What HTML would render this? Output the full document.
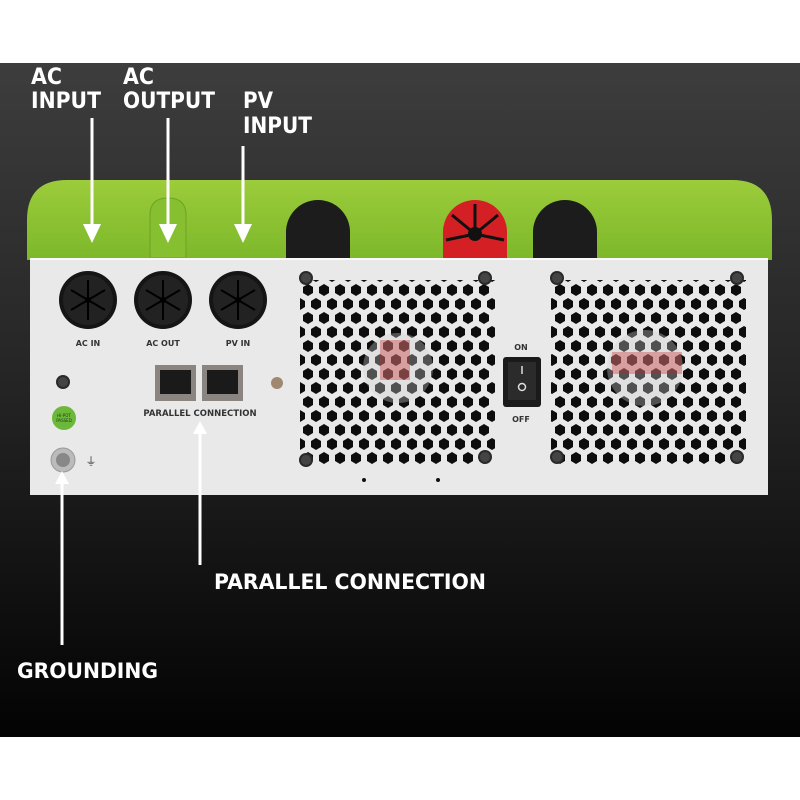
<!DOCTYPE html>
<html><head><meta charset="utf-8"><style>
html,body{margin:0;padding:0;background:#fff;}
svg{display:block}
text{font-family:"DejaVu Sans","Liberation Sans",sans-serif;}
</style></head><body>
<svg width="800" height="800" viewBox="0 0 800 800" xmlns="http://www.w3.org/2000/svg">
<defs>
<linearGradient id="bg" x1="0" y1="0" x2="0" y2="1">
<stop offset="0" stop-color="#3d3d3d"/><stop offset="0.45" stop-color="#262626"/><stop offset="1" stop-color="#030303"/>
</linearGradient>
<linearGradient id="gr" x1="0" y1="0" x2="0" y2="1">
<stop offset="0" stop-color="#9ccc3a"/><stop offset="1" stop-color="#7cb82a"/>
</linearGradient>
<pattern id="hex" width="16" height="28" patternUnits="userSpaceOnUse" x="300" y="282">
<polygon points="8,2 13,5 13,11 8,14 3,11 3,5" fill="#0d0d0d"/>
<polygon points="16,16 21,19 21,25 16,28 11,25 11,19" fill="#0d0d0d"/>
<polygon points="0,16 5,19 5,25 0,28 -5,25 -5,19" fill="#0d0d0d"/>
</pattern>
<pattern id="hex2" width="16" height="28" patternUnits="userSpaceOnUse" x="552" y="282">
<polygon points="8,2 13,5 13,11 8,14 3,11 3,5" fill="#0d0d0d"/>
<polygon points="16,16 21,19 21,25 16,28 11,25 11,19" fill="#0d0d0d"/>
<polygon points="0,16 5,19 5,25 0,28 -5,25 -5,19" fill="#0d0d0d"/>
</pattern>
<g id="grom">
<circle r="29" fill="#151515"/>
<circle r="25" fill="#222"/>
<g stroke="#000" stroke-width="2">
<line x1="0" y1="-20" x2="0" y2="20"/><line x1="-17" y1="-10" x2="17" y2="10"/><line x1="-17" y1="10" x2="17" y2="-10"/>
</g>
<circle r="3" fill="#000"/>
</g>
<g id="screw"><circle r="7" fill="#2a2a2a"/><circle r="5" fill="#444"/></g>
</defs>
<rect x="0" y="63" width="800" height="674" fill="url(#bg)"/>

<path d="M27 260 L27 220 Q27 180 67 180 L732 180 Q772 180 772 220 L772 260 Z" fill="url(#gr)"/>
<path d="M150 258 L150 215 Q150 198 168 198 Q186 198 186 215 L186 258 Z" fill="#86c030" stroke="#6da226" stroke-width="1"/>
<path d="M286 258 L286 232 A32 32 0 0 1 350 232 L350 258 Z" fill="#1c1c1c"/>
<path d="M443 258 L443 232 A32 32 0 0 1 507 232 L507 258 Z" fill="#d42025"/>
<g stroke="#111" stroke-width="3"><line x1="475" y1="234" x2="475" y2="204"/><line x1="475" y1="234" x2="452" y2="215"/><line x1="475" y1="234" x2="498" y2="215"/><line x1="475" y1="234" x2="446" y2="240"/><line x1="475" y1="234" x2="504" y2="240"/></g>
<circle cx="475" cy="234" r="7" fill="#111"/>
<path d="M533 258 L533 232 A32 32 0 0 1 597 232 L597 258 Z" fill="#1c1c1c"/>

<rect x="30" y="258" width="738" height="237" fill="#e9e9e9"/>
<rect x="30" y="258" width="738" height="2" fill="#fafafa"/>

<rect x="300" y="280" width="195" height="184" fill="url(#hex)"/>
<rect x="551" y="280" width="195" height="184" fill="url(#hex2)"/>
<circle cx="398" cy="368" r="35" fill="#d0d0d0" opacity="0.35"/>
<rect x="380" y="340" width="30" height="40" fill="#c8242a" opacity="0.35"/>
<circle cx="645" cy="368" r="38" fill="#d0d0d0" opacity="0.35"/>
<rect x="612" y="352" width="70" height="22" fill="#c8242a" opacity="0.35"/>
<use href="#screw" x="306" y="278"/><use href="#screw" x="485" y="278"/><use href="#screw" x="306" y="460"/><use href="#screw" x="485" y="457"/>
<use href="#screw" x="557" y="278"/><use href="#screw" x="737" y="278"/><use href="#screw" x="557" y="457"/><use href="#screw" x="737" y="457"/>
<circle cx="364" cy="480" r="2" fill="#111"/><circle cx="438" cy="480" r="2" fill="#111"/>

<rect x="503" y="357" width="38" height="50" rx="3" fill="#1a1a1a"/>
<rect x="508" y="362" width="28" height="38" fill="#2b2b2b"/>
<line x1="522" y1="366" x2="522" y2="374" stroke="#ddd" stroke-width="1.5"/>
<circle cx="522" cy="387" r="3.5" fill="none" stroke="#ddd" stroke-width="1.5"/>
<text x="521" y="350" font-size="8" font-weight="bold" fill="#333" text-anchor="middle">ON</text>
<text x="521" y="422" font-size="8" font-weight="bold" fill="#333" text-anchor="middle">OFF</text>

<use href="#grom" x="88" y="300"/><use href="#grom" x="163" y="300"/><use href="#grom" x="238" y="300"/>
<text x="88" y="346" font-size="8" font-weight="bold" fill="#333" text-anchor="middle">AC IN</text>
<text x="163" y="346" font-size="8" font-weight="bold" fill="#333" text-anchor="middle">AC OUT</text>
<text x="238" y="346" font-size="8" font-weight="bold" fill="#333" text-anchor="middle">PV IN</text>

<rect x="155" y="365" width="41" height="36" fill="#8a8580"/><rect x="160" y="370" width="31" height="24" fill="#1a1a1a"/>
<rect x="202" y="365" width="41" height="36" fill="#8a8580"/><rect x="207" y="370" width="31" height="24" fill="#1a1a1a"/>
<text x="200" y="416" font-size="8.5" font-weight="bold" fill="#333" text-anchor="middle">PARALLEL CONNECTION</text>
<use href="#screw" x="63" y="382"/>
<circle cx="277" cy="383" r="6" fill="#a08870"/>
<circle cx="64" cy="418" r="12" fill="#6cb83a"/>
<text x="64" y="417" font-size="4" fill="#1a3a10" text-anchor="middle">HI-POT</text>
<text x="64" y="422" font-size="4" fill="#1a3a10" text-anchor="middle">PASSED</text>
<circle cx="63" cy="460" r="12" fill="#bbb" stroke="#999"/><circle cx="63" cy="460" r="7" fill="#888"/>
<text x="91" y="465" font-size="11" fill="#333" text-anchor="middle">⏚</text>

<g stroke="#fff" stroke-width="3">
<line x1="92" y1="118" x2="92" y2="228"/>
<line x1="168" y1="118" x2="168" y2="228"/>
<line x1="243" y1="146" x2="243" y2="228"/>
<line x1="200" y1="432" x2="200" y2="565"/>
<line x1="62" y1="482" x2="62" y2="645"/>
</g>
<g fill="#fff">
<polygon points="83,224 101,224 92,243"/>
<polygon points="159,224 177,224 168,243"/>
<polygon points="234,224 252,224 243,243"/>
<polygon points="193,434 207,434 200,421"/>
<polygon points="55,484 69,484 62,471"/>
</g>

<g fill="#fff" font-size="22" font-weight="bold">
<text x="31" y="84" textLength="31" lengthAdjust="spacingAndGlyphs">AC</text><text x="31" y="108" textLength="70" lengthAdjust="spacingAndGlyphs">INPUT</text>
<text x="123" y="84" textLength="31" lengthAdjust="spacingAndGlyphs">AC</text><text x="123" y="108" textLength="92" lengthAdjust="spacingAndGlyphs">OUTPUT</text>
<text x="243" y="108" textLength="30" lengthAdjust="spacingAndGlyphs">PV</text><text x="243" y="133" textLength="69" lengthAdjust="spacingAndGlyphs">INPUT</text>
<text x="214" y="589" font-size="21" textLength="272" lengthAdjust="spacingAndGlyphs">PARALLEL CONNECTION</text>
<text x="17" y="678" font-size="21" textLength="141" lengthAdjust="spacingAndGlyphs">GROUNDING</text>
</g>
</svg>
</body></html>
